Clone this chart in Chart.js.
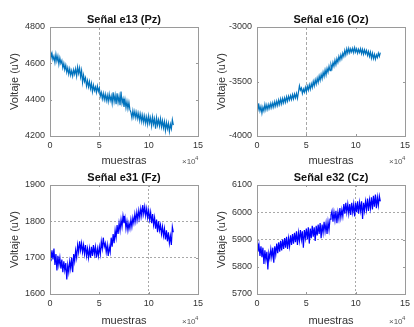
<!DOCTYPE html>
<html>
<head>
<meta charset="utf-8">
<script src="https://cdn.jsdelivr.net/npm/chart.js@4/dist/chart.umd.min.js"></script>
<style>
  html, body { margin: 0; padding: 0; background: #fff; }
  #wrap { position: relative; width: 414px; height: 327px; overflow: hidden; }
  canvas { position: absolute; }
</style>
</head>
<body>
<div id="wrap">
  <canvas id="pz" width="207" height="165" style="left:0;top:0"></canvas>
  <canvas id="oz" width="207" height="165" style="left:207px;top:0"></canvas>
  <canvas id="fz" width="207" height="162" style="left:0;top:165px"></canvas>
  <canvas id="cz" width="207" height="162" style="left:207px;top:165px"></canvas>
</div>
<script>
// muestras en unidades de 10^4, paso de 0.1
const paso = 0.1;
const xTicks = [0, 5, 10, 15];

const senalPz = [
  4660, 4630, 4655, 4620, 4640, 4605, 4650, 4612, 4640, 4595,
  4630, 4600, 4615, 4575, 4600, 4565, 4590, 4550, 4575, 4540,
  4570, 4535, 4560, 4530, 4565, 4540, 4570, 4530, 4580, 4545,
  4575, 4525, 4560, 4495, 4535, 4500, 4520, 4475, 4505, 4470,
  4500, 4460, 4490, 4445, 4480, 4450, 4470, 4440, 4475, 4445,
  4465, 4420, 4440, 4405, 4435, 4400, 4430, 4395, 4425, 4390,
  4430, 4395, 4420, 4380, 4440, 4390, 4425, 4375, 4435, 4385,
  4420, 4370, 4445, 4380, 4405, 4360, 4400, 4355, 4390, 4350,
  4385, 4345, 4330, 4300, 4340, 4305, 4335, 4300, 4330, 4295,
  4325, 4285, 4320, 4280, 4315, 4275, 4310, 4270, 4305, 4265,
  4310, 4270, 4300, 4255, 4305, 4265, 4295, 4240, 4300, 4260,
  4290, 4255, 4295, 4250, 4285, 4245, 4280, 4230, 4275, 4240,
  4270, 4225, 4265, 4240, 4290, 4260
];

const senalOz = [
  -3700, -3760, -3720, -3770, -3730, -3790, -3735, -3770, -3710, -3760,
  -3715, -3755, -3710, -3745, -3700, -3740, -3695, -3735, -3685, -3725,
  -3680, -3720, -3670, -3710, -3660, -3705, -3655, -3695, -3650, -3690,
  -3640, -3680, -3635, -3670, -3630, -3665, -3620, -3660, -3615, -3650,
  -3610, -3655, -3600, -3540, -3580, -3560, -3610, -3570, -3600, -3555,
  -3595, -3545, -3580, -3530, -3570, -3520, -3555, -3500, -3540, -3485,
  -3525, -3470, -3510, -3450, -3490, -3435, -3475, -3415, -3455, -3395,
  -3440, -3380, -3415, -3360, -3400, -3345, -3380, -3325, -3360, -3305,
  -3345, -3290, -3325, -3270, -3305, -3255, -3290, -3240, -3270, -3215,
  -3255, -3200, -3240, -3195, -3235, -3200, -3230, -3195, -3235, -3190,
  -3230, -3200, -3240, -3205, -3235, -3200, -3245, -3205, -3250, -3210,
  -3245, -3215, -3260, -3225, -3270, -3230, -3285, -3240, -3290, -3250,
  -3295, -3255, -3280, -3240, -3270, -3235
];

const senalFz = [
  1715, 1690, 1720, 1695, 1725, 1680, 1710, 1665, 1705, 1680,
  1700, 1670, 1695, 1660, 1690, 1665, 1685, 1640, 1680, 1660,
  1690, 1670, 1700, 1660, 1710, 1690, 1720, 1700, 1735, 1715,
  1745, 1720, 1740, 1715, 1735, 1710, 1735, 1705, 1725, 1700,
  1725, 1700, 1730, 1705, 1735, 1710, 1730, 1700, 1725, 1705,
  1730, 1710, 1745, 1725, 1755, 1730, 1740, 1715, 1735, 1705,
  1730, 1715, 1755, 1730, 1765, 1740, 1775, 1755, 1790, 1765,
  1795, 1775, 1805, 1785, 1815, 1795, 1810, 1780, 1800, 1775,
  1795, 1780, 1805, 1785, 1810, 1795, 1820, 1800, 1825, 1805,
  1830, 1810, 1835, 1815, 1845, 1820, 1840, 1815, 1835, 1810,
  1830, 1805, 1825, 1795, 1820, 1790, 1810, 1780, 1805, 1770,
  1800, 1775, 1790, 1765, 1785, 1760, 1780, 1750, 1775, 1745,
  1770, 1740, 1760, 1735, 1785, 1770
];

const senalCz = [
  5885, 5855, 5880, 5840, 5875, 5835, 5870, 5810, 5860, 5825,
  5855, 5790, 5850, 5830, 5865, 5835, 5870, 5815, 5875, 5845,
  5885, 5850, 5890, 5855, 5895, 5860, 5900, 5865, 5905, 5870,
  5910, 5865, 5905, 5875, 5915, 5880, 5920, 5885, 5925, 5890,
  5930, 5880, 5925, 5895, 5935, 5900, 5930, 5870, 5935, 5905,
  5940, 5900, 5945, 5885, 5940, 5905, 5950, 5910, 5945, 5895,
  5950, 5915, 5955, 5920, 5960, 5905, 5955, 5925, 5965, 5930,
  5960, 5920, 5965, 5935, 5975, 5990, 6005, 5965, 6000, 5970,
  6005, 5960, 6000, 5975, 6015, 5980, 6010, 5985, 6030, 5995,
  6035, 6000, 6030, 5995, 6030, 5990, 6035, 6000, 6030, 5985,
  6035, 6000, 6040, 5995, 6035, 6005, 6040, 5975, 6035, 6005,
  6040, 6010, 6050, 6005, 6045, 6015, 6055, 6010, 6060, 6020,
  6065, 6015, 6055, 6025, 6060, 6040
];

const fuente = "'Liberation Sans', Arial, sans-serif";

// titulos, etiquetas, caja y marcas interiores estilo MATLAB
const marcoPlugin = {
  id: 'marco',
  afterDraw(chart, args, opts) {
    const c = chart.ctx;
    const a = chart.chartArea;
    const xs = chart.scales.x, ys = chart.scales.y;
    c.save();
    c.strokeStyle = '#9a9a9a';
    c.lineWidth = 1;
    c.strokeRect(Math.round(a.left) + 0.5, Math.round(a.top) + 0.5,
      Math.round(a.right - a.left), Math.round(a.bottom - a.top));
    c.beginPath();
    xs.ticks.forEach(t => {
      const px = Math.round(xs.getPixelForValue(t.value)) + 0.5;
      c.moveTo(px, a.bottom); c.lineTo(px, a.bottom - 2);
      c.moveTo(px, a.top); c.lineTo(px, a.top + 2);
    });
    ys.ticks.forEach(t => {
      const py = Math.round(ys.getPixelForValue(t.value)) + 0.5;
      c.moveTo(a.left, py); c.lineTo(a.left + 2, py);
      c.moveTo(a.right, py); c.lineTo(a.right - 2, py);
    });
    c.stroke();

    const cx = (a.left + a.right) / 2;
    c.fillStyle = '#111';
    c.textAlign = 'center';
    c.textBaseline = 'alphabetic';
    c.font = 'bold 11px ' + fuente;
    c.fillText(opts.titulo, cx, a.top - 4.5);

    c.fillStyle = '#333';
    c.font = '11px ' + fuente;
    c.fillText('muestras', cx, opts.yEtiqueta);

    c.save();
    c.translate(18, (a.top + a.bottom) / 2);
    c.rotate(-Math.PI / 2);
    c.fillText('Voltaje (uV)', 0, 0);
    c.restore();

    c.textAlign = 'left';
    c.fillStyle = '#555';
    c.font = '8px ' + fuente;
    c.fillText('\u00d710', 182, opts.yEtiqueta);
    c.font = '6px ' + fuente;
    c.fillText('4', 195, opts.yEtiqueta - 4);
    c.restore();
  }
};

function dibujarSenal(id, titulo, valores, color, yMin, yMax, yPaso, gridX, gridY, dash, altoCanvas, arriba, yEtiqueta) {
  const puntos = valores.map((v, i) => ({ x: i * paso, y: v }));
  const abajo = altoCanvas - arriba - 109;

  new Chart(document.getElementById(id), {
    type: 'line',
    data: {
      datasets: [{
        data: puntos,
        borderColor: color,
        borderWidth: 1.2,
        pointRadius: 0,
        tension: 0,
        fill: false
      }]
    },
    options: {
      responsive: false,
      animation: false,
      devicePixelRatio: 1,
      layout: { padding: { left: 0, right: 4, top: arriba, bottom: 0 } },
      plugins: {
        legend: { display: false },
        tooltip: { enabled: false },
        marco: { titulo: titulo, yEtiqueta: yEtiqueta }
      },
      scales: {
        x: {
          type: 'linear',
          min: 0,
          max: 15,
          afterFit: s => { s.height = abajo; },
          afterBuildTicks: s => { s.ticks = xTicks.map(v => ({ value: v })); },
          ticks: {
            autoSkip: false,
            maxRotation: 0,
            padding: 4,
            color: '#333',
            font: { family: fuente, size: 9 },
            callback: v => String(v)
          },
          grid: {
            drawTicks: false,
            color: ctx => gridX.includes(ctx.tick.value) ? '#a8a8a8' : 'rgba(0,0,0,0)',
            lineWidth: 1
          },
          border: { display: false, dash: dash }
        },
        y: {
          min: yMin,
          max: yMax,
          afterFit: s => { s.width = 50; },
          ticks: {
            stepSize: yPaso,
            autoSkip: false,
            padding: 5,
            color: '#333',
            font: { family: fuente, size: 9 },
            callback: v => String(v)
          },
          grid: {
            drawTicks: false,
            color: ctx => gridY.includes(ctx.tick.value) ? '#a8a8a8' : 'rgba(0,0,0,0)',
            lineWidth: 1
          },
          border: { display: false, dash: dash }
        }
      }
    },
    plugins: [marcoPlugin]
  });
}

dibujarSenal('pz', 'Señal e13 (Pz)', senalPz, 'rgb(0,114,189)', 4200, 4800, 200, [5], [], [3, 2], 165, 27, 164);
dibujarSenal('oz', 'Señal e16 (Oz)', senalOz, 'rgb(0,114,189)', -4000, -3000, 500, [5], [], [3, 2], 165, 27, 164);
dibujarSenal('fz', 'Señal e31 (Fz)', senalFz, '#0000ff', 1600, 1900, 100, [10], [1700, 1800], [2, 2], 162, 20, 158.5);
dibujarSenal('cz', 'Señal e32 (Cz)', senalCz, '#0000ff', 5700, 6100, 100, [10], [5900, 6000], [2, 2], 162, 20, 158.5);
</script>
</body>
</html>
